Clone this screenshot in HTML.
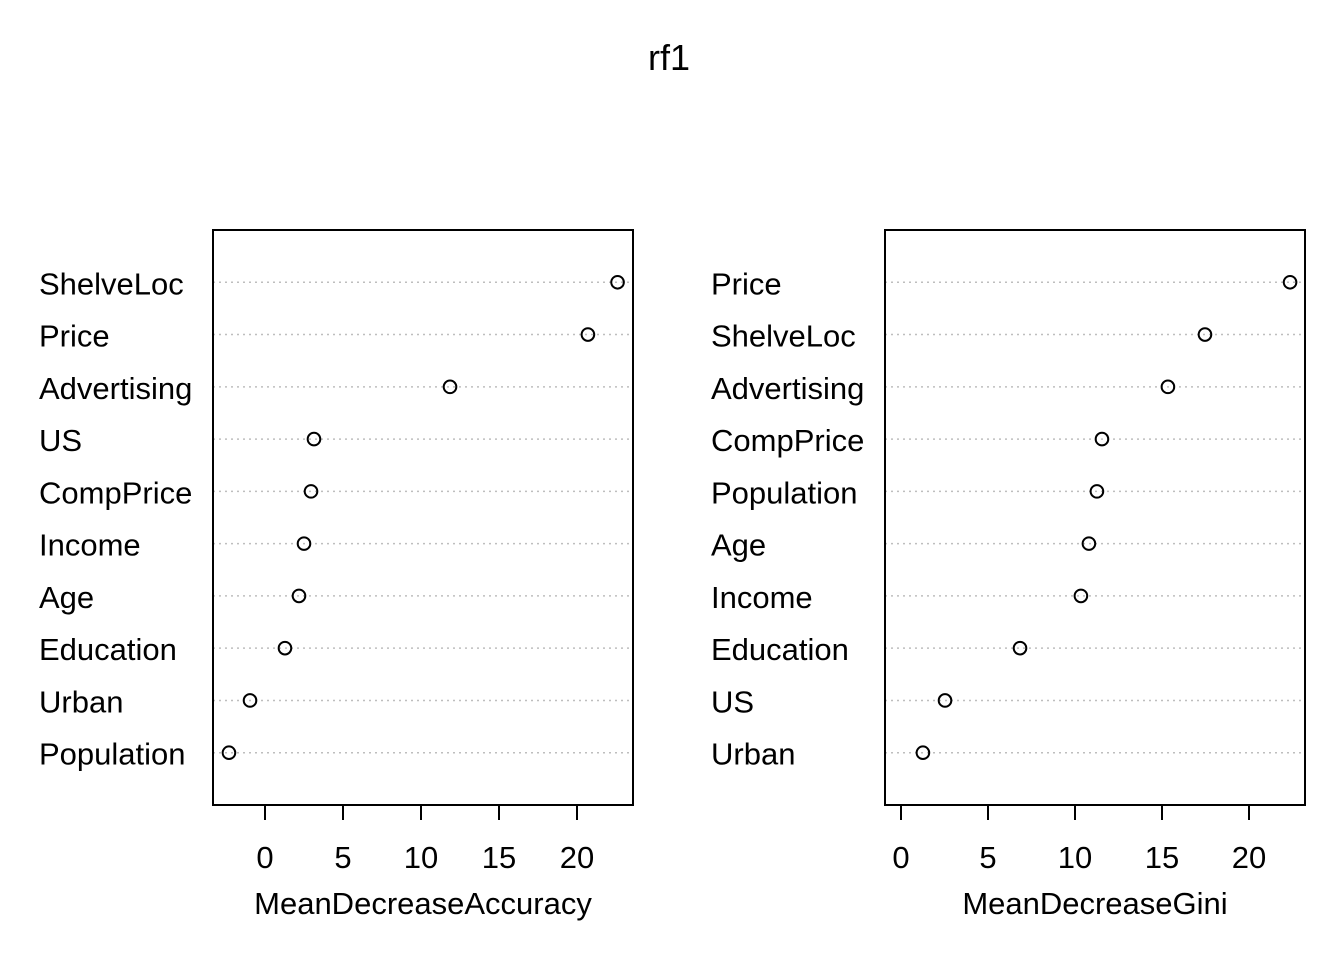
<!DOCTYPE html>
<html><head><meta charset="utf-8"><style>
body{margin:0;background:#fff}
svg text{font-family:"Liberation Sans",Arial,sans-serif;fill:#000}
</style></head><body>
<svg id="chart" width="1344" height="960">
<text x="669" y="70" font-size="36" text-anchor="middle">rf1</text>
</svg>
<script>
const accVars=["ShelveLoc","Price","Advertising","US","CompPrice","Income","Age","Education","Urban","Population"];
const accVals=[22.6,20.7,11.86,3.14,2.95,2.5,2.18,1.28,-0.96,-2.31];
const giniVars=["Price","ShelveLoc","Advertising","CompPrice","Population","Age","Income","Education","US","Urban"];
const giniVals=[22.36,17.47,15.34,11.55,11.26,10.8,10.34,6.84,2.53,1.26];
const ticks=[0,5,10,15,20];
const svg=document.getElementById('chart');
const NS='http://www.w3.org/2000/svg';
function mk(t,a){const e=document.createElementNS(NS,t);for(const k in a)e.setAttribute(k,a[k]);svg.appendChild(e);return e;}
function panel(vars,vals,box,zeroPx,ppu,labelX,title,prefix){
  const x=v=>zeroPx+v*ppu;
  const top=230,bot=805,n=vars.length,uy=(bot-top)/(n+1);
  const y=i=>top+(i+1)*uy;
  vars.forEach((name,i)=>{
    const g=mk('line',{x1:box[0],x2:box[1],y1:y(i),y2:y(i),stroke:'#bebebe','stroke-width':1.5,'stroke-dasharray':'2,4'});
    
    
    const l=mk('text',{x:labelX,y:y(i)+12,'font-size':31});
    l.textContent=name;
    
    
    const c=mk('circle',{cx:x(vals[i]),cy:y(i),r:6.3,fill:'none',stroke:'#000','stroke-width':2});
    
    
  });
  const r=mk('rect',{x:box[0],y:top,width:box[1]-box[0],height:bot-top,fill:'none',stroke:'#000','stroke-width':2});
  
  
  ticks.forEach(t=>{
    const tk=mk('line',{x1:x(t),x2:x(t),y1:bot,y2:bot+15,stroke:'#000','stroke-width':2});
    
    
    const tl=mk('text',{x:x(t),y:868,'font-size':31,'text-anchor':'middle'});
    tl.textContent=t;
    
    
  });
  const at=mk('text',{x:(box[0]+box[1])/2,y:914,'font-size':31,'text-anchor':'middle'});
  at.textContent=title;
  
  
}
panel(accVars,accVals,[213,633],265,15.6,39,'MeanDecreaseAccuracy','accuracy');
panel(giniVars,giniVals,[885,1305],901,17.4,711,'MeanDecreaseGini','gini');
</script>
</body></html>
